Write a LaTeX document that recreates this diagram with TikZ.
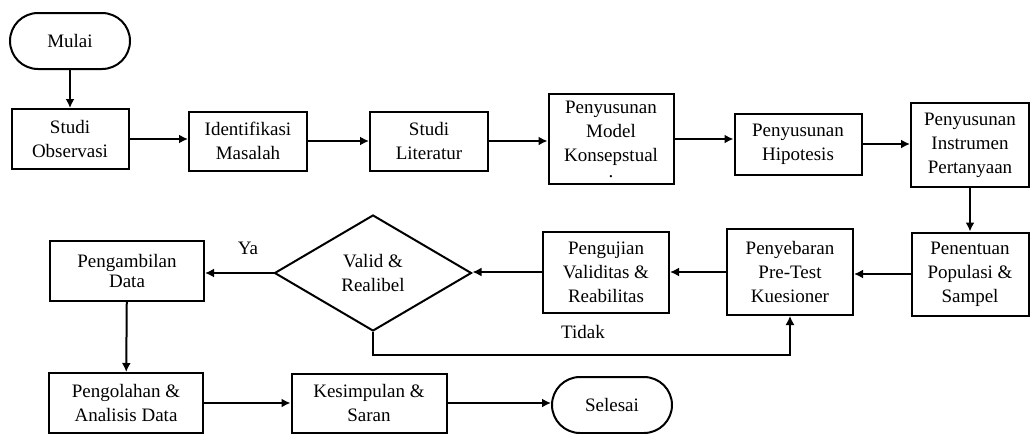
\documentclass[tikz,border=0pt]{standalone}
\usepackage{fontspec}
\setmainfont{Liberation Serif}
\usetikzlibrary{arrows.meta,shapes.geometric}

\tikzset{
  kotak/.style={draw, line width=1pt, align=center, inner sep=1pt},
  mulaiselesai/.style={draw, line width=1pt, rounded corners=14pt, minimum width=60pt, minimum height=28pt},
  panah/.style={line width=1pt, -{Latex[length=4.5pt,width=4.5pt]}},
}

\begin{document}
\begin{tikzpicture}[x=0.5pt,y=-0.5pt,font=\fontsize{9.5}{12}\selectfont]
\useasboundingbox (0,0) rectangle (1030,434);

% Baris pertama
\node[mulaiselesai] (mulai) at (70,41) {Mulai};
\node[kotak, minimum width=58.5pt, minimum height=30pt] (observasi) at (70,139) {Studi\\Observasi};
\node[kotak, minimum width=59pt, minimum height=29.5pt] (identifikasi) at (248,141) {Identifikasi\\Masalah};
\node[kotak, minimum width=59pt, minimum height=29.5pt] (literatur) at (429,141) {Studi\\Literatur};
\node[kotak, minimum width=62.5pt, minimum height=45pt] (model) at (611,139) {Penyusunan\\Model\\Konsepstual\\[-4pt].};
\node[kotak, minimum width=63.5pt, minimum height=30.5pt] (hipotesis) at (798,144) {Penyusunan\\Hipotesis};
\node[kotak, minimum width=59pt, minimum height=42pt] (instrumen) at (970,145) {Penyusunan\\Instrumen\\Pertanyaan};

% Baris kedua
\node[kotak, minimum width=58.5pt, minimum height=41.5pt] (penentuan) at (970,274) {Penentuan\\Populasi \&\\Sampel};
\node[kotak, minimum width=63pt, minimum height=43pt] (sebar) at (790,272) {Penyebaran\\Pre-Test\\Kuesioner};
\node[kotak, minimum width=63pt, minimum height=40.5pt] (uji) at (606,272) {Pengujian\\Validitas \&\\Reabilitas};
\node[draw, line width=1pt, diamond, aspect=1.7, minimum width=98.5pt, minimum height=58pt, inner sep=0pt, align=center] (valid) at (373,273) {Valid \&\\Realibel};
\node[kotak, minimum width=77pt, minimum height=30pt] (ambil) at (127,271) {Pengambilan\\[-2pt]Data};

% Baris ketiga
\node[kotak, minimum width=77pt, minimum height=30pt] (olah) at (126,403) {Pengolahan \&\\Analisis Data};
\node[kotak, minimum width=77.5pt, minimum height=29.5pt] (simpul) at (369,403) {Kesimpulan \&\\Saran};
\node[mulaiselesai] (selesai) at (612,405) {Selesai};

% Label
\node (ya) at (248,248) {Ya};
\node (tidak) at (583,332) {Tidak};

% Panah
\draw[panah] (mulai) -- (observasi);
\draw[panah] (observasi.east) -- (observasi.east -| identifikasi.west);
\draw[panah] (identifikasi.east) -- (identifikasi.east -| literatur.west);
\draw[panah] (literatur.east) -- (literatur.east -| model.west);
\draw[panah] (model.east) -- (model.east -| hipotesis.west);
\draw[panah] (hipotesis.east) -- (hipotesis.east -| instrumen.west);
\draw[panah] (instrumen) -- (penentuan);
\draw[panah] (penentuan.west) -- (penentuan.west -| sebar.east);
\draw[panah] (sebar) -- (uji);
\draw[panah] (uji.west) -- (uji.west -| valid.east);
\draw[panah] (valid.west) -- (valid.west -| ambil.east);
\draw[panah, line width=0.7pt] (valid.south) -- ++(0,23) -| (sebar.south); % tidak valid
\draw[panah] (ambil) -- (olah);
\draw[panah] (olah.east) -- (olah.east -| simpul.west);
\draw[panah] (simpul.east) -- (simpul.east -| selesai.west);

\end{tikzpicture}
\end{document}
